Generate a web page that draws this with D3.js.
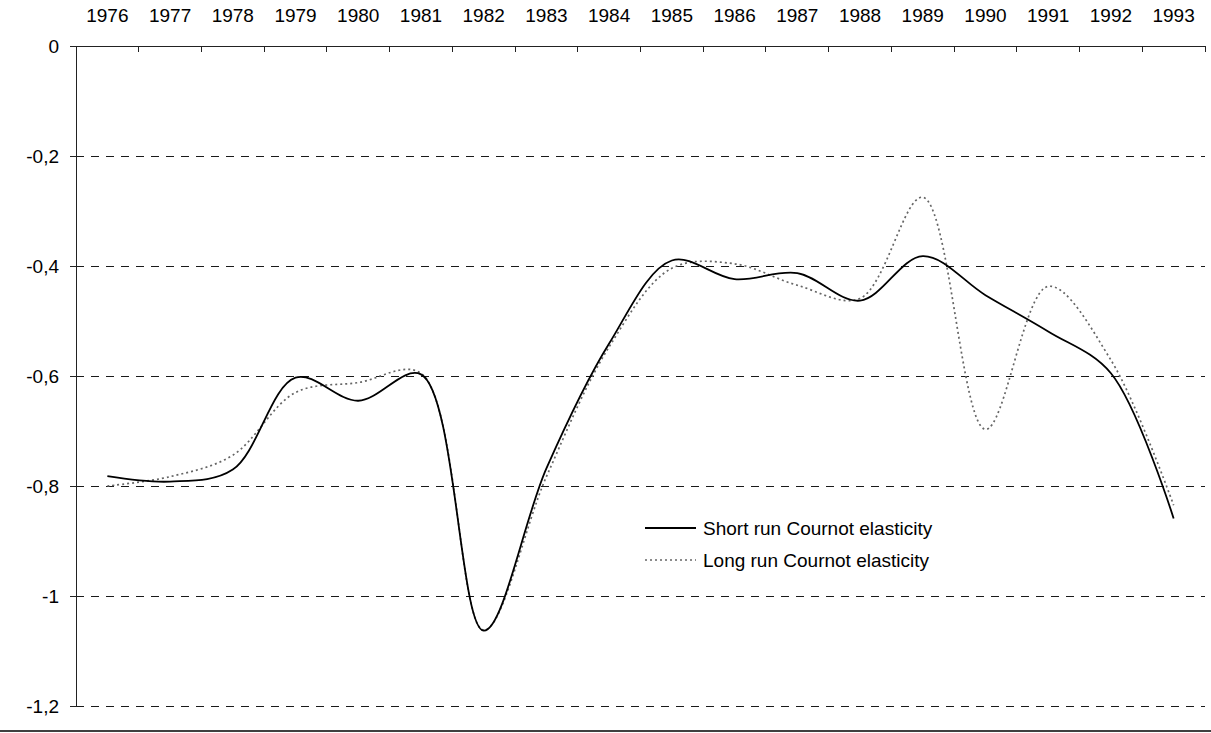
<!DOCTYPE html>
<html lang="en">
<head>
    <meta charset="UTF-8">
    <title>Cournot elasticity</title>
    <script src="https://d3js.org/d3.v7.min.js"></script>
    <style>
        body { margin: 0; background: #fff; }
        svg { display: block; font-family: "Liberation Sans", Arial, sans-serif; }
    </style>
</head>
<body>
    <svg id="chart"></svg>
    <script>
        const width = 1211;
        const height = 733;

        const years = ["1976", "1977", "1978", "1979", "1980", "1981", "1982", "1983", "1984",
                       "1985", "1986", "1987", "1988", "1989", "1990", "1991", "1992", "1993"];
        const shortRun = [-0.782, -0.792, -0.770, -0.603, -0.645, -0.597, -1.063, -0.768, -0.541,
                          -0.390, -0.424, -0.413, -0.463, -0.382, -0.453, -0.519, -0.595, -0.859];
        const longRun = [-0.800, -0.783, -0.744, -0.630, -0.612, -0.595, -1.062, -0.783, -0.547,
                         -0.404, -0.396, -0.435, -0.459, -0.275, -0.697, -0.437, -0.571, -0.835];
        const yTicks = [0, -0.2, -0.4, -0.6, -0.8, -1, -1.2];
        const seriesNames = ["Short run Cournot elasticity", "Long run Cournot elasticity"];

        const plotLeft = 76, plotRight = 1205, plotTop = 46, plotBottom = 706;
        const fontSize = 19;

        const svg = d3.select("#chart")
            .attr("width", width)
            .attr("height", height);

        const x = d3.scaleBand().domain(years).range([plotLeft, plotRight]).padding(0);
        const y = d3.scaleLinear().domain([-1.2, 0]).range([plotBottom, plotTop]);
        const cx = d => x(d) + x.bandwidth() / 2;

        // dashed gridlines
        svg.append("g")
            .attr("shape-rendering", "crispEdges")
            .selectAll("line")
            .data(yTicks.filter(d => d !== 0))
            .join("line")
            .attr("x1", plotLeft)
            .attr("x2", plotRight)
            .attr("y1", d => y(d))
            .attr("y2", d => y(d))
            .attr("stroke", "#1a1a1a")
            .attr("stroke-width", 1)
            .attr("stroke-dasharray", "8,7");

        // y axis
        const yAxis = svg.append("g")
            .attr("transform", `translate(${plotLeft},0)`)
            .call(d3.axisLeft(y)
                .tickValues(yTicks)
                .tickSize(6)
                .tickSizeOuter(0)
                .tickPadding(11)
                .tickFormat(d => String(d).replace(".", ",")));
        yAxis.select(".domain").attr("stroke", "#222").attr("shape-rendering", "crispEdges");
        yAxis.selectAll(".tick line").attr("stroke", "#222").attr("shape-rendering", "crispEdges");
        yAxis.selectAll("text")
            .attr("font-size", fontSize)
            .attr("fill", "#000")
            .attr("font-family", "'Liberation Sans', Arial, sans-serif");

        // top category axis
        svg.append("line")
            .attr("x1", plotLeft).attr("x2", plotRight)
            .attr("y1", plotTop).attr("y2", plotTop)
            .attr("stroke", "#222")
            .attr("shape-rendering", "crispEdges");

        const boundaries = years.map(d => x(d)).concat([plotRight]);
        svg.append("g")
            .attr("shape-rendering", "crispEdges")
            .selectAll("line")
            .data(boundaries)
            .join("line")
            .attr("x1", d => d).attr("x2", d => d)
            .attr("y1", plotTop).attr("y2", plotTop + 6)
            .attr("stroke", "#222");

        svg.append("g")
            .selectAll("text")
            .data(years)
            .join("text")
            .attr("x", d => cx(d))
            .attr("y", 22)
            .attr("text-anchor", "middle")
            .attr("font-size", fontSize)
            .text(d => d);

        // lines
        const line = d3.line()
            .x((d, i) => cx(years[i]))
            .y(d => y(d))
            .curve(d3.curveCatmullRom.alpha(0.5));

        svg.append("path")
            .datum(longRun)
            .attr("fill", "none")
            .attr("stroke", "#666")
            .attr("stroke-width", 1.7)
            .attr("stroke-dasharray", "2,3")
            .attr("d", line);

        svg.append("path")
            .datum(shortRun)
            .attr("fill", "none")
            .attr("stroke", "#000")
            .attr("stroke-width", 1.8)
            .attr("d", line);

        // legend
        const legend = svg.append("g").attr("transform", "translate(645,528)");
        const styles = [
            { stroke: "#000", width: 1.8, dash: null },
            { stroke: "#666", width: 1.7, dash: "2,3" }
        ];
        seriesNames.forEach((name, i) => {
            const row = legend.append("g").attr("transform", `translate(0,${i * 32})`);
            row.append("line")
                .attr("x1", 0).attr("x2", 51)
                .attr("y1", 0).attr("y2", 0)
                .attr("stroke", styles[i].stroke)
                .attr("stroke-width", styles[i].width)
                .attr("stroke-dasharray", styles[i].dash);
            row.append("text")
                .attr("x", 58)
                .attr("y", 0)
                .attr("dy", "0.35em")
                .attr("font-size", fontSize)
                .text(name);
        });

        // bottom border
        svg.append("line")
            .attr("x1", 0).attr("x2", width)
            .attr("y1", 731).attr("y2", 731)
            .attr("stroke", "#000")
            .attr("stroke-width", 1.5);
    </script>
</body>
</html>
